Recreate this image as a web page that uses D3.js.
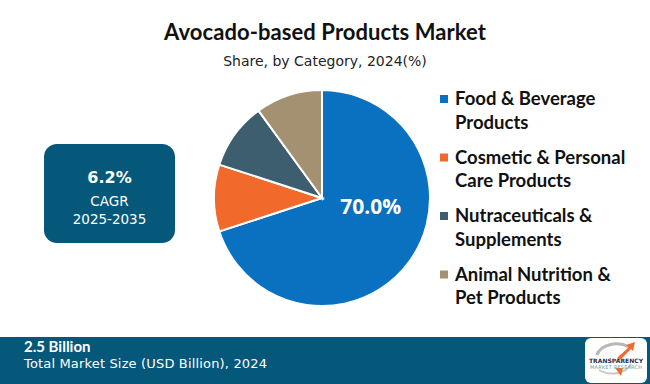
<!DOCTYPE html>
<html>
<head>
<meta charset="utf-8">
<script src="https://cdn.jsdelivr.net/npm/d3@7"></script>
<style>
  body { margin: 0; background: #fff; }
  svg { display: block; }
</style>
</head>
<body>
<svg id="chart" width="650" height="384"></svg>
<script>
// ---> Data
const categories = [
    ["Food & Beverage", "Products"],
    ["Cosmetic & Personal", "Care Products"],
    ["Nutraceuticals &", "Supplements"],
    ["Animal Nutrition &", "Pet Products"]
];
const shares = [70.0, 10.0, 10.0, 10.0];
const colors = ["#0a70c0", "#f2692c", "#3d5e6e", "#a39171"];
const titleText = "Avocado-based Products Market";
const subtitleText = "Share, by Category, 2024(%)";
const cagrValue = "6.2%";
const cagrLabel = ["CAGR", "2025-2035"];
const marketSize = "2.5 Billion";
const marketLabel = "Total Market Size (USD Billion), 2024";

const svg = d3.select("#chart");
const width = +svg.attr("width");
const height = +svg.attr("height");
const dark = "#05587a";

// ---> Titles
svg.append("text")
    .attr("x", width / 2).attr("y", 40)
    .attr("text-anchor", "middle")
    .style("font-family", "Lato, 'Open Sans', sans-serif")
    .style("font-weight", "bold")
    .style("font-size", "22px")
    .style("fill", "#111")
    .attr("textLength", 322)
    .text(titleText);

svg.append("text")
    .attr("x", width / 2).attr("y", 66)
    .attr("text-anchor", "middle")
    .style("font-family", "'DejaVu Sans', sans-serif")
    .style("font-size", "14px")
    .style("fill", "#222")
    .text(subtitleText);

// ---> CAGR box
const box = svg.append("g").attr("transform", "translate(44,144)");
box.append("rect")
    .attr("width", 131).attr("height", 99)
    .attr("rx", 13)
    .attr("fill", dark);
box.append("text")
    .attr("x", 65.5).attr("y", 39)
    .attr("text-anchor", "middle")
    .style("font-family", "'DejaVu Sans', sans-serif")
    .style("font-weight", "bold")
    .style("font-size", "16px")
    .style("fill", "#fff")
    .text(cagrValue);
box.selectAll("text.lab")
    .data(cagrLabel)
    .enter().append("text")
    .attr("class", "lab")
    .attr("x", 65.5)
    .attr("y", (d, i) => 62 + i * 18)
    .attr("text-anchor", "middle")
    .style("font-family", "'DejaVu Sans', sans-serif")
    .style("font-size", "13.5px")
    .style("fill", "#fff")
    .text(d => d);

// ---> Pie
const cx = 322, cy = 198, radius = 108;
const pie = d3.pie().sort(null).value(d => d);
const arc = d3.arc().innerRadius(0).outerRadius(radius);
const arcs = pie(shares);

const pieG = svg.append("g").attr("transform", `translate(${cx},${cy})`);
pieG.selectAll("path")
    .data(arcs)
    .enter().append("path")
    .attr("d", arc)
    .attr("fill", (d, i) => colors[i])
    .attr("stroke", "#fff")
    .attr("stroke-width", 2);

// label only the big slice, placed to the right of the centre
pieG.selectAll("text")
    .data(arcs.filter(d => d.data >= 50))
    .enter().append("text")
    .attr("x", radius * 0.45)
    .attr("y", 16)
    .attr("text-anchor", "middle")
    .style("font-family", "'Open Sans', sans-serif")
    .style("font-weight", "bold")
    .style("font-size", "21px")
    .style("fill", "#fff")
    .text(d => d.data.toFixed(1) + "%");

// ---> Legend
const legend = svg.append("g").attr("transform", "translate(440,92)");
const item = legend.selectAll("g")
    .data(categories)
    .enter().append("g")
    .attr("transform", (d, i) => `translate(0,${i * 58.5})`);
item.append("rect")
    .attr("y", 3)
    .attr("width", 8).attr("height", 8)
    .attr("fill", (d, i) => colors[i]);
item.selectAll("text")
    .data(d => d)
    .enter().append("text")
    .attr("x", 15)
    .attr("y", (d, i) => 13 + i * 23.5)
    .style("font-family", "Lato, 'Open Sans', sans-serif")
    .style("font-weight", "bold")
    .style("font-size", "18.5px")
    .style("fill", "#111")
    .text(d => d);

// ---> Footer
const footer = svg.append("g").attr("transform", "translate(0,337)");
footer.append("rect")
    .attr("width", width).attr("height", height - 337)
    .attr("fill", dark);
footer.append("text")
    .attr("x", 24).attr("y", 14.5)
    .style("font-family", "Lato, sans-serif")
    .style("font-weight", "bold")
    .style("font-size", "15px")
    .style("fill", "#fff")
    .text(marketSize);
footer.append("text")
    .attr("x", 24).attr("y", 31)
    .style("font-family", "'DejaVu Sans', sans-serif")
    .style("font-size", "13px")
    .style("fill", "#fff")
    .attr("textLength", 243)
    .text(marketLabel);

// logo
const logo = footer.append("g").attr("transform", "translate(585,1)");
logo.append("rect")
    .attr("width", 62).attr("height", 45)
    .attr("rx", 6)
    .attr("fill", "#fff");
logo.append("path")
    .attr("d", "M12,17 A20,14 0 0 1 44,9")
    .attr("fill", "none")
    .attr("stroke", "#b8b8b8")
    .attr("stroke-width", 3);
logo.append("path")
    .attr("d", "M14,32 A20,14 0 0 0 46,26")
    .attr("fill", "none")
    .attr("stroke", "#c8c8c8")
    .attr("stroke-width", 2);
logo.append("path")
    .attr("d", "M32,20 L44,9 L41,7 L50,4 L48,13 L46,11 L35,22 Z")
    .attr("fill", "#f2692c");
logo.append("path")
    .attr("d", "M30,30 L36,38 L38,30 Z")
    .attr("fill", "#f2692c");
logo.append("text")
    .attr("x", 31).attr("y", 25)
    .attr("text-anchor", "middle")
    .style("font-family", "'DejaVu Sans', sans-serif")
    .style("font-weight", "bold")
    .style("font-size", "6px")
    .style("fill", "#1b2f4e")
    .attr("textLength", 54)
    .text("TRANSPARENCY");
logo.append("text")
    .attr("x", 31).attr("y", 31)
    .attr("text-anchor", "middle")
    .style("font-family", "'DejaVu Sans', sans-serif")
    .style("font-size", "5px")
    .style("fill", "#6aa3a0")
    .attr("textLength", 52)
    .text("MARKET RESEARCH");
</script>
</body>
</html>
